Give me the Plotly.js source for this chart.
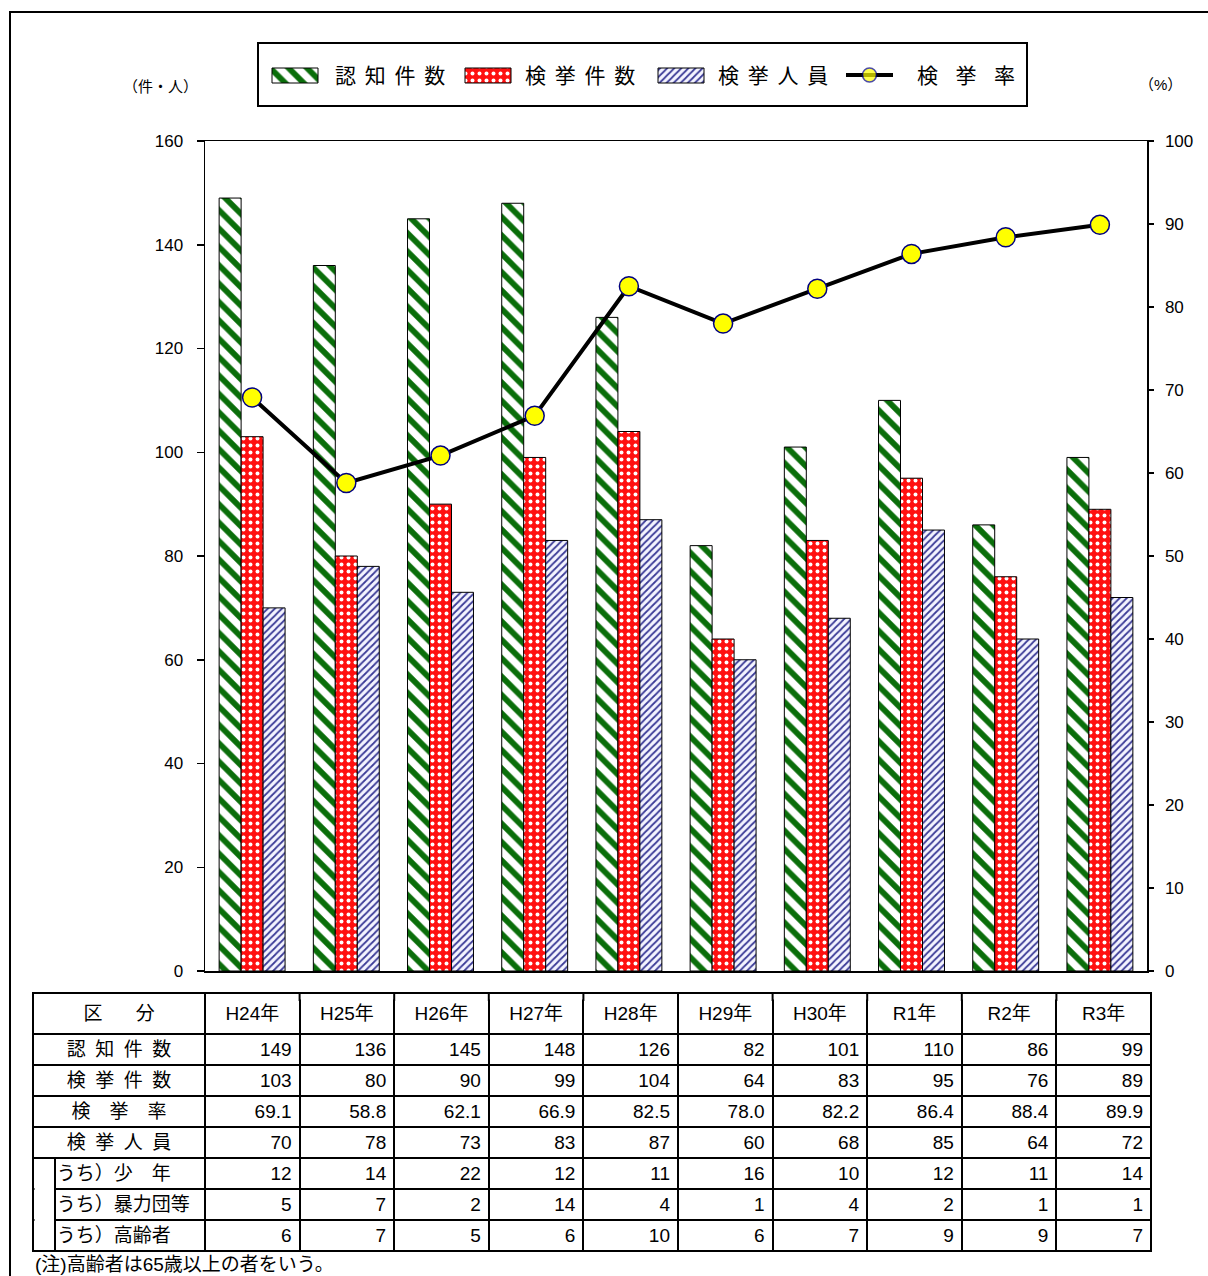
<!DOCTYPE html>
<html>
<head>
<meta charset="utf-8">
<script src="https://cdn.plot.ly/plotly-3.0.1.min.js"></script>
<style>html,body{margin:0;padding:0;background:#fff;}#chart{width:1208px;height:1276px;}</style>
</head>
<body>
<div id="chart"></div>
<script>
// ---- data ----
var years = ['H24年','H25年','H26年','H27年','H28年','H29年','H30年','R1年','R2年','R3年'];
var ninchi = [149,136,145,148,126,82,101,110,86,99];      // 認知件数
var kenkyo = [103,80,90,99,104,64,83,95,76,89];           // 検挙件数
var rate = [69.1,58.8,62.1,66.9,82.5,78.0,82.2,86.4,88.4,89.9]; // 検挙率
var jinin = [70,78,73,83,87,60,68,85,64,72];              // 検挙人員
var shonen = [12,14,22,12,11,16,10,12,11,14];             // うち少年
var boryoku = [5,7,2,14,4,1,4,2,1,1];                     // うち暴力団等
var koreisha = [6,7,5,6,10,6,7,9,9,7];                    // うち高齢者
var IND = '\u2002\u2004';
var rowLabels = ['認\u2002知\u2002件\u2002数','検\u2002挙\u2002件\u2002数','検\u2003挙\u2003率','検\u2002挙\u2002人\u2002員',
                 IND+'うち）少\u3000年', IND+'うち）暴力団等', IND+'うち）高齢者'];
var headerLabel = '区\u2003\u2002\u2005分';
var legendNames = ['認\u2005\u2006知\u2005\u2006件\u2005\u2006数','検\u2005\u2006挙\u2005\u2006件\u2005\u2006数','検\u2005\u2006挙\u2005\u2006人\u2005\u2006員','検\u2002\u2004挙\u2002\u2004率'];
var noteText = '(注)高齢者は65歳以上の者をいう。';

// ---- layout helpers ----
var W = 1208, H = 1276;
function px(x){ return x / W; }
function py(y){ return 1 - y / H; }
var FONT = 'Liberation Sans, Noto Sans CJK JP, sans-serif';

var tableTop = 993, tableLeft = 33, tableRight = 1151, headerH = 41, rowH = 31;
var headShift = 5; // table drawn 5px lower, header top extended with shapes (centres header text)

// legend swatch geometry (pixels)
var legSwatchX = [295, 488, 681];
var legSwatchW = 46, legSwatchTop = 68, legSwatchH = 15;
var legLineX = [846, 869.5, 893];
var legTextX = [333, 523, 716, 915];
var legY = 75;

var barLine = {color:'#000', width:1};
var patterns = [
  {shape:'\\', fgcolor:'#0a6e0a', bgcolor:'#ffffff', size:13, solidity:0.45, fillmode:'replace'},
  {shape:'.', fgcolor:'#ffffff', bgcolor:'#ff1010', size:7, solidity:0.25, fillmode:'replace'},
  {shape:'/', fgcolor:'#3a3a96', bgcolor:'#f4f4ff', size:5, solidity:0.35, fillmode:'replace'}
];
var barSeries = [ninchi, kenkyo, jinin];

var traces = [];
barSeries.forEach(function(vals, i){
  traces.push({type:'bar', x:years, y:vals, name:legendNames[i], xaxis:'x', yaxis:'y',
    marker:{color:'#fff', line:barLine, pattern:patterns[i]}, showlegend:false});
});
traces.push({type:'scatter', mode:'lines+markers', x:years, y:rate, name:legendNames[3], xaxis:'x', yaxis:'y2',
   line:{color:'#000', width:4}, showlegend:false,
   marker:{color:'#ffff00', size:19, line:{color:'#000080', width:1.5}}});

// legend swatches on a full-page pixel axis
barSeries.forEach(function(vals, i){
  traces.push({type:'bar', x:[legSwatchX[i]], y:[legSwatchH], base:[legSwatchTop], width:[legSwatchW], offset:[-legSwatchW/2],
    xaxis:'x3', yaxis:'y3', showlegend:false, hoverinfo:'skip',
    marker:{color:'#fff', line:barLine, pattern:patterns[i]}});
});
traces.push({type:'scatter', mode:'lines+markers', x:legLineX, y:[legY, legY, legY], xaxis:'x3', yaxis:'y3',
  showlegend:false, hoverinfo:'skip', line:{color:'#000', width:4},
  marker:{color:'#ffff00', size:[0,14,0], line:{color:'#000080', width:[0,1.5,0]}}});

// table
var colValues = [rowLabels];
for (var i = 0; i < years.length; i++) {
  colValues.push([ninchi[i], kenkyo[i], rate[i].toFixed(1), jinin[i], shonen[i], boryoku[i], koreisha[i]].map(String));
}
var firstAlign = ['center','center','center','center','left','left','left'];
var aligns = [firstAlign];
for (var j = 0; j < years.length; j++) aligns.push('right');
var colW = [172];
for (var k = 0; k < years.length; k++) colW.push((tableRight - tableLeft - 172) / years.length);
var headerCells = [headerLabel].concat(years);

traces.push({
  type:'table',
  domain:{x:[px(tableLeft), px(tableRight)], y:[0, py(tableTop + headShift)]},
  columnwidth: colW,
  header:{values:headerCells.map(function(h){return [h];}),
          align:'center', height:headerH - headShift,
          line:{color:'#000', width:2}, fill:{color:'#fff'},
          font:{family:FONT, size:19, color:'#000'}},
  cells:{values:colValues, align:aligns, height:rowH,
         line:{color:'#000', width:2}, fill:{color:'#fff'},
         font:{family:FONT, size:19, color:'#000'}}
});

var r4 = tableTop + headerH + 4*rowH; // bottom of 検挙人員 row
var tb = tableTop + headerH + 7*rowH; // bottom of table

var shapes = [
  {type:'rect', xref:'paper', yref:'paper', x0:px(10), x1:px(1230), y0:py(1300), y1:py(12), line:{color:'#000', width:2}, fillcolor:'rgba(0,0,0,0)'},
  {type:'rect', xref:'paper', yref:'paper', x0:px(258), x1:px(1027), y0:py(106), y1:py(43), line:{color:'#000', width:2}, fillcolor:'rgba(0,0,0,0)'},
  // indentation of the うち rows
  {type:'rect', xref:'paper', yref:'paper', x0:px(tableLeft+1.5), x1:px(54), y0:py(tb-1.2), y1:py(r4+1.2), line:{width:0}, fillcolor:'#fff', layer:'above'},
  {type:'line', xref:'paper', yref:'paper', x0:px(55), x1:px(55), y0:py(tb+1), y1:py(r4-1), line:{color:'#000', width:2}, layer:'above'},
  // header top extension
  {type:'rect', xref:'paper', yref:'paper', x0:px(tableLeft+1), x1:px(tableRight-1), y0:py(tableTop+headShift+1.5), y1:py(tableTop+headShift-1.5), line:{width:0}, fillcolor:'#fff', layer:'above'},
  {type:'line', xref:'paper', yref:'paper', x0:px(tableLeft-1), x1:px(tableRight+1), y0:py(tableTop), y1:py(tableTop), line:{color:'#000', width:2}, layer:'above'}
];
var cx = tableLeft;
for (var c = 0; c <= colW.length; c++) {
  shapes.push({type:'line', xref:'paper', yref:'paper', x0:px(cx), x1:px(cx), y0:py(tableTop - 1), y1:py(tableTop + headShift + 3),
               line:{color:'#000', width:2}, layer:'above'});
  if (c < colW.length) cx += colW[c];
}

var annotations = [
  {xref:'paper', yref:'paper', x:px(160), y:py(87), xanchor:'center', yanchor:'middle', text:'（件・人）', showarrow:false, font:{family:FONT, size:15, color:'#000'}},
  {xref:'paper', yref:'paper', x:px(1160), y:py(85), xanchor:'center', yanchor:'middle', text:'（%）', showarrow:false, font:{family:FONT, size:15, color:'#000'}},
  {xref:'paper', yref:'paper', x:px(33), y:py(1264), xanchor:'left', yanchor:'middle', text:noteText, showarrow:false, font:{family:FONT, size:19, color:'#000'}}
];
legendNames.forEach(function(n, i){
  annotations.push({xref:'paper', yref:'paper', x:px(legTextX[i]), y:py(legY), xanchor:'left', yanchor:'middle',
    text:n, showarrow:false, font:{family:FONT, size:21, color:'#000'}});
});

var layout = {
  width:W, height:H,
  margin:{l:0, r:0, t:0, b:0},
  paper_bgcolor:'#fff', plot_bgcolor:'rgba(0,0,0,0)',
  font:{family:FONT, color:'#000'},
  barmode:'group', bargap:0.3, bargroupgap:0,
  showlegend:false,
  xaxis:{domain:[px(205), px(1147)], range:[-0.5, 9.5], showticklabels:false, ticks:'', showline:true, mirror:true,
         linecolor:'#000', linewidth:1.5, showgrid:false, zeroline:false, fixedrange:true},
  yaxis:{domain:[py(971), py(141)], range:[0,160], dtick:20, showline:true, linecolor:'#000', linewidth:1.5,
         ticks:'outside', ticklen:7, tickcolor:'#000', tickwidth:1.5, showgrid:false, zeroline:false,
         tickfont:{family:FONT, size:17, color:'#000'}, ticklabelstandoff:10},
  yaxis2:{range:[0,100], dtick:10, overlaying:'y', side:'right', showline:true, linecolor:'#000', linewidth:1.5,
          ticks:'outside', ticklen:5, tickcolor:'#000', tickwidth:1.5, showgrid:false, zeroline:false,
          tickfont:{family:FONT, size:17, color:'#000'}, ticklabelstandoff:8},
  xaxis3:{domain:[0,1], range:[0,W], visible:false, anchor:'y3', fixedrange:true},
  yaxis3:{domain:[0,1], range:[H,0], visible:false, anchor:'x3', fixedrange:true},
  shapes:shapes,
  annotations:annotations
};

Plotly.newPlot('chart', traces, layout, {displayModeBar:false, staticPlot:true});
</script>
</body>
</html>
